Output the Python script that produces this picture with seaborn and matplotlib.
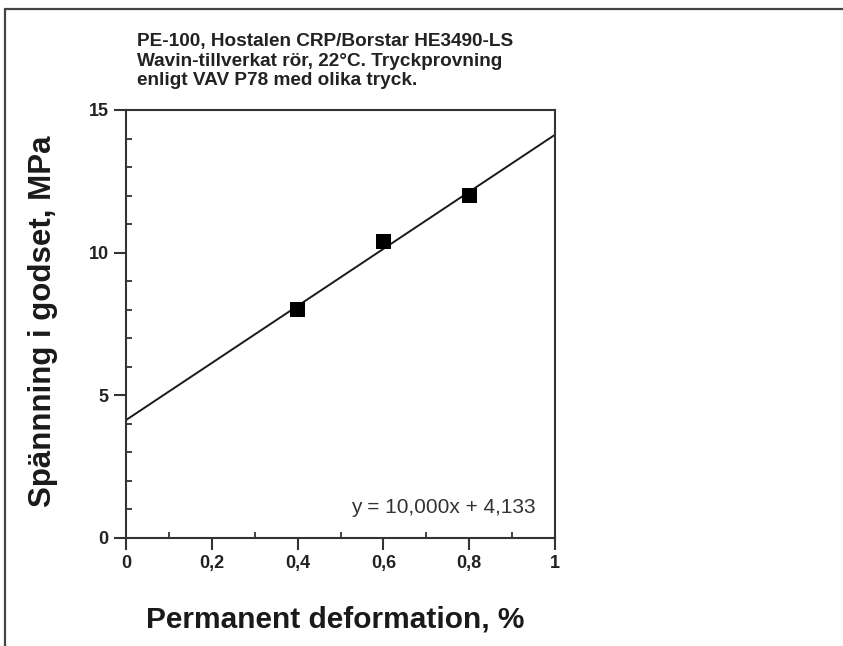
import matplotlib
matplotlib.use("Agg")
import matplotlib.pyplot as plt
from matplotlib.lines import Line2D
from matplotlib.ticker import MultipleLocator, FuncFormatter
import pandas as pd
import seaborn as sns

# Measured points
deformation = [0.4, 0.6, 0.8]
stress = [8.0, 10.4, 12.0]

# Linear fit as stated on the chart
slope = 10.000
intercept = 4.133
fit_x = [0.0, 1.0]

title_lines = [
    "PE-100, Hostalen CRP/Borstar HE3490-LS",
    "Wavin-tillverkat rör, 22°C. Tryckprovning",
    "enligt VAV P78 med olika tryck.",
]

sns.set_theme(style="white")
plt.rcParams["font.family"] = ["Liberation Sans", "DejaVu Sans"]

W, H = 843, 646
fig = plt.figure(figsize=(W / 100, H / 100), dpi=100)
fig.patch.set_facecolor("white")

ax = fig.add_axes([126 / W, 1 - 538 / H, (555 - 126) / W, (538 - 110) / H])

pts = pd.DataFrame({"x": deformation, "y": stress})
fit = pd.DataFrame({"x": fit_x, "y": [slope * v + intercept for v in fit_x]})

sns.lineplot(data=fit, x="x", y="y", ax=ax, color="#1a1a1a", linewidth=1.4)
sns.scatterplot(data=pts, x="x", y="y", ax=ax, marker="s", s=115,
                color="black", edgecolor="none", zorder=5)

ax.set_xlim(0, 1)
ax.set_ylim(0, 15)
ax.set_xlabel("")
ax.set_ylabel("")

ax.xaxis.set_major_locator(MultipleLocator(0.2))
ax.xaxis.set_minor_locator(MultipleLocator(0.1))
ax.yaxis.set_major_locator(MultipleLocator(5))
ax.yaxis.set_minor_locator(MultipleLocator(1))


def comma_fmt(v, pos):
    if abs(v - round(v)) < 1e-9:
        return f"{int(round(v))}"
    return f"{v:.1f}".replace(".", ",")


ax.xaxis.set_major_formatter(FuncFormatter(comma_fmt))
ax.yaxis.set_major_formatter(FuncFormatter(comma_fmt))

for s in ax.spines.values():
    s.set_color("#333333")
    s.set_linewidth(1.5)
    s.set_visible(True)

ax.tick_params(which="major", direction="out", length=8.5, width=1.5,
               color="#333333", labelsize=13, labelcolor="#222222",
               bottom=True, left=True, top=False, right=False, pad=4)
ax.tick_params(which="minor", direction="in", length=4.5, width=1.3,
               color="#333333", bottom=True, left=True, top=False, right=False)
for lab in ax.get_xticklabels() + ax.get_yticklabels():
    lab.set_fontweight("bold")

ax.text(0.955, 0.072, f"y = {slope:.3f}x + {intercept:.3f}".replace(".", ","),
        transform=ax.transAxes, ha="right", va="center", fontsize=15,
        color="#333333")

fig.text(137 / W, 1 - 61 / H, "\n".join(title_lines), ha="left", va="center",
         fontsize=13.7, fontweight="bold", color="#222222", linespacing=1.22)

fig.text(43 / W, 1 - 321 / H, "Spännning i godset, MPa", rotation=90,
         ha="center", va="center", fontsize=22.5, fontweight="bold",
         color="#1a1a1a")
fig.text(335 / W, 1 - 619 / H, "Permanent deformation, %", ha="center",
         va="center", fontsize=21.5, fontweight="bold", color="#1a1a1a")

# Page frame
fig.add_artist(Line2D([5 / W, 1], [1 - 9 / H, 1 - 9 / H], transform=fig.transFigure,
                      color="#444444", linewidth=1.6))
fig.add_artist(Line2D([5 / W, 5 / W], [0, 1 - 9 / H], transform=fig.transFigure,
                      color="#444444", linewidth=1.6))

fig.savefig("out.png", dpi=100, facecolor="white")
